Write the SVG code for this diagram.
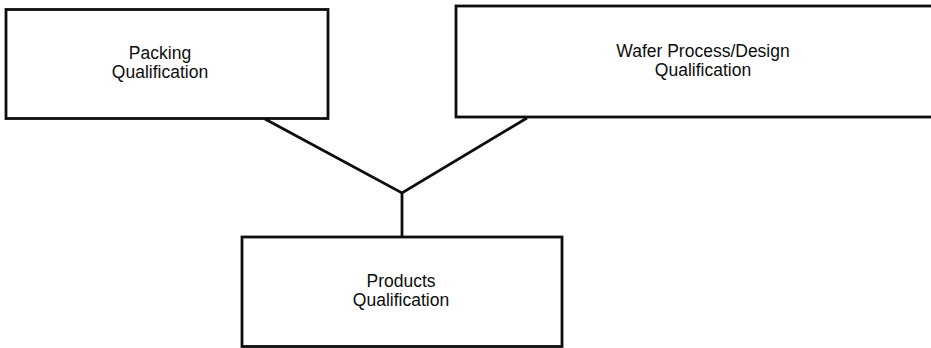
<svg xmlns="http://www.w3.org/2000/svg" width="931" height="348" viewBox="0 0 931 348">
  <style>
    .box { fill: #ffffff; stroke: #0d0d0d; stroke-width: 2.8; }
    .link { fill: none; stroke: #0d0d0d; stroke-width: 2.8; stroke-linejoin: miter; }
    .label { font-family: "Liberation Sans", Arial, sans-serif; font-size: 17.5px; fill: #0d0d0d; text-anchor: middle; }
  </style>
  <rect width="931" height="348" fill="#ffffff"/>

  <!-- connectors: two branches meeting above the products box -->
  <g id="connectors">
    <polyline class="link" points="265,119 402,193 527,118"/>
    <line class="link" x1="402" y1="193" x2="402" y2="237"/>
  </g>

  <g id="packing">
    <rect class="box" x="6" y="9.5" width="322" height="109"/>
    <text class="label" x="160" y="59">Packing</text>
    <text class="label" x="160" y="78">Qualification</text>
  </g>

  <g id="wafer">
    <rect class="box" x="456" y="6" width="490" height="111"/>
    <text class="label" x="703" y="57">Wafer Process/Design</text>
    <text class="label" x="703" y="76">Qualification</text>
  </g>

  <g id="products">
    <rect class="box" x="242" y="237" width="320" height="109.5"/>
    <text class="label" x="401" y="287">Products</text>
    <text class="label" x="401" y="306">Qualification</text>
  </g>
</svg>
